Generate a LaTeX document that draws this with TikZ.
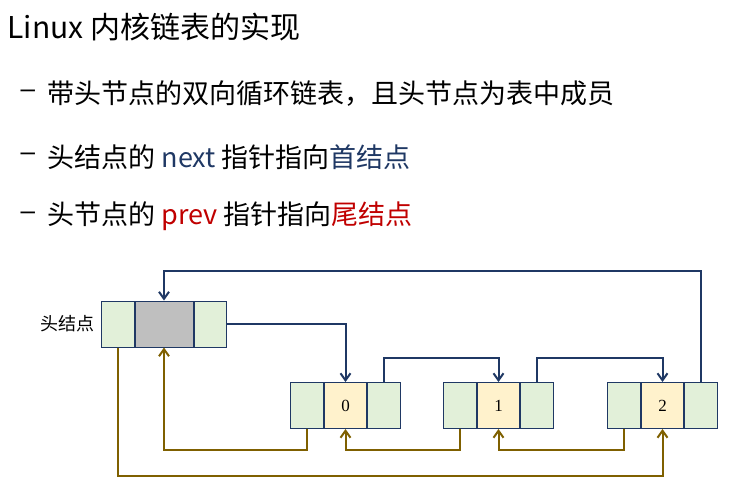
\documentclass[tikz,border=0pt]{standalone}
\usepackage{fontspec}
\setmainfont{Noto Sans CJK SC}
\newfontfamily\numfont{Liberation Serif}
\newfontfamily\dashfont{Liberation Sans}
\usetikzlibrary{positioning, arrows.meta}
\definecolor{navyline}{HTML}{1F3864}
\definecolor{brownline}{HTML}{7F6000}
\definecolor{cellgreen}{HTML}{E2F0D9}
\definecolor{cellgray}{HTML}{BFBFBF}
\definecolor{cellyellow}{HTML}{FFF2CC}
\definecolor{prevred}{HTML}{C00000}
\tikzset{
  cell/.style={draw=navyline, line width=1pt, rectangle, inner sep=0pt, minimum height=46pt, font=\numfont\fontsize{17}{17}\selectfont},
  ptrcell/.style={cell, fill=cellgreen, minimum width=33pt},
  datacell/.style={cell, fill=cellyellow, minimum width=42pt},
  nextlink/.style={draw=navyline, line width=2pt, -{Straight Barb[length=7pt,width=10pt]}},
  prevlink/.style={draw=brownline, line width=2pt, -{Straight Barb[length=7pt,width=10pt]}},
  bullet/.style={anchor=west, font=\fontsize{27}{27}\selectfont},
  dashmark/.style={anchor=west, font=\dashfont\fontsize{26}{26}\selectfont}
}
\begin{document}
\begin{tikzpicture}[x=1pt,y=-1pt]
\useasboundingbox (0,0) rectangle (734,491);

%Text
\node[anchor=west, font=\fontsize{30}{30}\selectfont] (title) at (4,27) {Linux 内核链表的实现};
\node[dashmark] (dashA) at (17,94) {–};
\node[bullet] (lineA) at (44,94) {带头节点的双向循环链表，且头节点为表中成员};
\node[dashmark] (dashB) at (17,157) {–};
\node[bullet] (lineB) at (44,157) {头结点的 \textcolor{navyline}{next} 指针指向\textcolor{navyline}{首结点}};
\node[dashmark] (dashC) at (17,216) {–};
\node[bullet] (lineC) at (44,216) {头节点的 \textcolor{prevred}{prev} 指针指向\textcolor{prevred}{尾结点}};

%Head node
\node[ptrcell, minimum width=33pt] (headL) at (117.5,324) {};
\node[cell, fill=cellgray, minimum width=58pt, right=0pt of headL] (headD) {};
\node[ptrcell, minimum width=32pt, right=0pt of headD] (headR) {};
\node[left=2pt of headL, font=\fontsize{18}{18}\selectfont] (headLabel) {头结点};

%List nodes
\foreach \name/\xpos/\val in {zero/307/0, one/460/1, two/624/2}{
  \node[ptrcell] (\name L) at (\xpos,405.5) {};
  \node[datacell, right=0pt of \name L] (\name D) {\val};
  \node[ptrcell, right=0pt of \name D] (\name R) {};
}

%Next links
\draw[nextlink] (headR.east) -| (zeroD.north);
\draw[nextlink] (zeroR.north) -- ++(0,-24) -| (oneD.north);
\draw[nextlink] (oneR.north) -- ++(0,-24) -| (twoD.north);
\draw[nextlink] (twoR.north) -- ++(0,-111) -| (headD.north);

%Prev links
\draw[prevlink] (zeroL.south) -- ++(0,21) -| (headD.south);
\draw[prevlink] (oneL.south) -- ++(0,21) -| (zeroD.south);
\draw[prevlink] (twoL.south) -- ++(0,21) -| (oneD.south);
\draw[prevlink] (headL.south) -- ++(0,128) -| (twoD.south);

\end{tikzpicture}
\end{document}
